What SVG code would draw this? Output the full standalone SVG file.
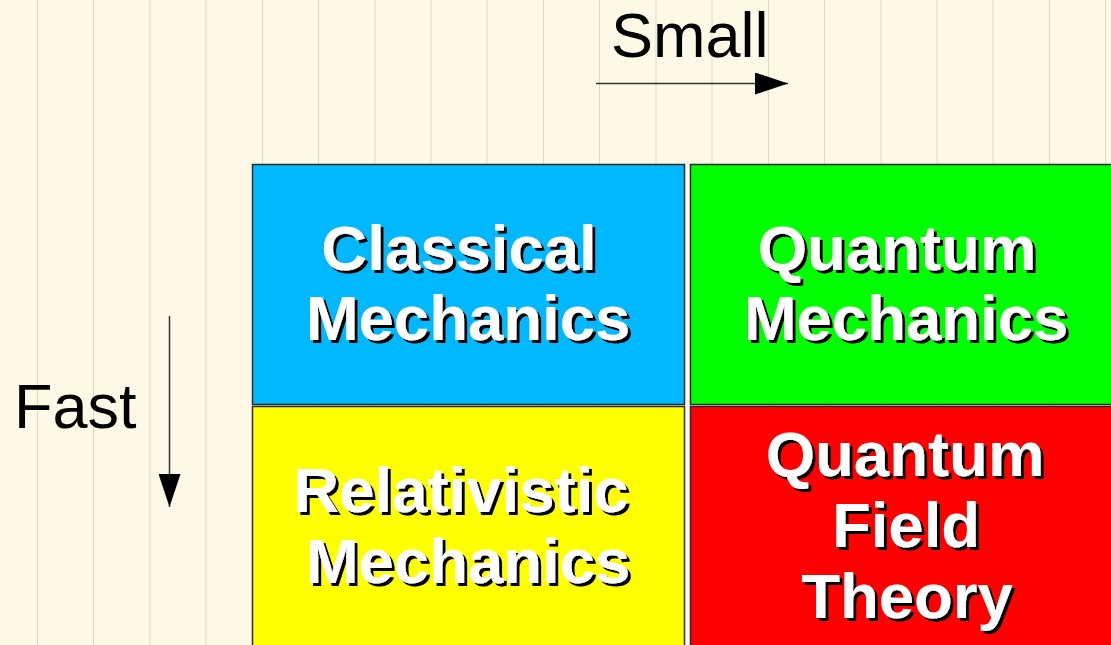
<svg xmlns="http://www.w3.org/2000/svg" width="1111" height="645" viewBox="0 0 1111 645">
<defs>
<style>
.bg{fill:#FEF9E7}
.stripe{stroke:#CFC9BA;stroke-width:1;opacity:0.7}
.box{stroke:#2a2a2a;stroke-width:1.5}
.lbl{font-family:"Liberation Sans",Arial,sans-serif;font-weight:bold;font-size:63.5px;text-anchor:middle;fill:#fff;filter:url(#shadow)}
.axis{font-family:"Liberation Sans",Arial,sans-serif;font-size:63px;fill:#000}
.conn{stroke:#333;stroke-width:1.5;fill:none}
</style>
<filter id="shadow" x="-10%" y="-20%" width="130%" height="150%">
<feFlood flood-color="#000" result="f"/>
<feComposite in="f" in2="SourceAlpha" operator="in" result="s"/>
<feOffset in="s" dx="3" dy="3" result="o"/>
<feMerge><feMergeNode in="o"/><feMergeNode in="SourceGraphic"/></feMerge>
</filter>
<marker id="ah" markerWidth="33" markerHeight="22" refX="33" refY="11" orient="auto" markerUnits="userSpaceOnUse">
<path d="M0,0 L33,11 L0,22 Z" fill="#000"/>
</marker>
</defs>
<rect class="bg" x="0" y="0" width="1111" height="645"/>
<g id="stripes">
<line class="stripe" x1="37.5" y1="0" x2="37.5" y2="645"/>
<line class="stripe" x1="93.5" y1="0" x2="93.5" y2="645"/>
<line class="stripe" x1="150" y1="0" x2="150" y2="645"/>
<line class="stripe" x1="206" y1="0" x2="206" y2="645"/>
<line class="stripe" x1="262.5" y1="0" x2="262.5" y2="645"/>
<line class="stripe" x1="318.5" y1="0" x2="318.5" y2="645"/>
<line class="stripe" x1="375" y1="0" x2="375" y2="645"/>
<line class="stripe" x1="431" y1="0" x2="431" y2="645"/>
<line class="stripe" x1="487" y1="0" x2="487" y2="645"/>
<line class="stripe" x1="543.5" y1="0" x2="543.5" y2="645"/>
<line class="stripe" x1="599.5" y1="0" x2="599.5" y2="645"/>
<line class="stripe" x1="656" y1="0" x2="656" y2="645"/>
<line class="stripe" x1="712" y1="0" x2="712" y2="645"/>
<line class="stripe" x1="768.5" y1="0" x2="768.5" y2="645"/>
<line class="stripe" x1="824.5" y1="0" x2="824.5" y2="645"/>
<line class="stripe" x1="881" y1="0" x2="881" y2="645"/>
<line class="stripe" x1="937" y1="0" x2="937" y2="645"/>
<line class="stripe" x1="993" y1="0" x2="993" y2="645"/>
<line class="stripe" x1="1049.5" y1="0" x2="1049.5" y2="645"/>
<line class="stripe" x1="1105.5" y1="0" x2="1105.5" y2="645"/>
</g>
<g id="connectors">
<line class="conn" x1="596" y1="83.5" x2="788" y2="83.5" marker-end="url(#ah)"/>
<line class="conn" x1="169.5" y1="316" x2="169.5" y2="507" marker-end="url(#ah)"/>
</g>
<g id="label-small"><text class="axis" x="611" y="57">Small</text></g>
<g id="label-fast"><text class="axis" x="14" y="428">Fast</text></g>
<g id="classical">
<rect class="box" x="252.5" y="164.5" width="432" height="240" fill="#00B8FF"/>
<text class="lbl" x="459" y="270">Classical</text>
<text class="lbl" x="468" y="340">Mechanics</text>
</g>
<g id="quantum">
<rect class="box" x="690.5" y="164.5" width="440" height="240" fill="#00FF00"/>
<text class="lbl" x="897" y="270">Quantum</text>
<text class="lbl" x="906" y="340">Mechanics</text>
</g>
<g id="relativistic">
<rect class="box" x="252.5" y="406.5" width="432" height="260" fill="#FFFF00"/>
<text class="lbl" x="461" y="512">Relativistic</text>
<text class="lbl" x="468" y="583">Mechanics</text>
</g>
<g id="qft">
<rect class="box" x="690.5" y="406.5" width="440" height="260" fill="#FF0000"/>
<text class="lbl" x="905" y="476">Quantum</text>
<text class="lbl" x="906" y="547">Field</text>
<text class="lbl" x="907" y="618">Theory</text>
</g>
</svg>
